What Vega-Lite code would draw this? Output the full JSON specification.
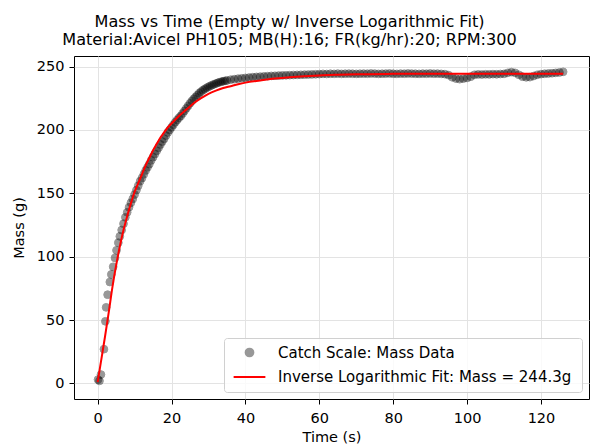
{
  "$schema": "https://vega.github.io/schema/vega-lite/v6.json",
  "width": 515,
  "height": 343,
  "autosize": {"type": "none"},
  "padding": {"left": 74, "top": 56, "right": 6, "bottom": 46},
  "background": "white",
  "config": {
    "font": "DejaVu Sans",
    "view": {"stroke": "black", "strokeWidth": 1},
    "axis": {
      "domain": false,
      "grid": true,
      "gridColor": "#e3e3e3",
      "gridWidth": 1,
      "tickColor": "black",
      "tickSize": 5,
      "labelFont": "DejaVu Sans",
      "labelFontSize": 14.5,
      "labelColor": "black",
      "titleFont": "DejaVu Sans",
      "titleFontSize": 14.5,
      "titleFontWeight": "normal",
      "titleColor": "black"
    }
  },
  "title": {
    "text": ["Mass vs Time (Empty w/ Inverse Logarithmic Fit)", "Material:Avicel PH105; MB(H):16; FR(kg/hr):20; RPM:300"],
    "font": "DejaVu Sans",
    "fontSize": 16.1,
    "fontWeight": "normal",
    "color": "black",
    "anchor": "middle",
    "dx": -42,
    "lineHeight": 18,
    "offset": 8
  },
  "datasets": {
    "mass": [
      {"t": 0.1, "m": 3, "s": "Catch Scale: Mass Data"},
      {"t": 0.5, "m": 2, "s": "Catch Scale: Mass Data"},
      {"t": 0.9, "m": 7, "s": "Catch Scale: Mass Data"},
      {"t": 1.7, "m": 27, "s": "Catch Scale: Mass Data"},
      {"t": 2.1, "m": 49, "s": "Catch Scale: Mass Data"},
      {"t": 2.3, "m": 60, "s": "Catch Scale: Mass Data"},
      {"t": 2.7, "m": 70, "s": "Catch Scale: Mass Data"},
      {"t": 3.3, "m": 80, "s": "Catch Scale: Mass Data"},
      {"t": 3.7, "m": 86, "s": "Catch Scale: Mass Data"},
      {"t": 4.2, "m": 92, "s": "Catch Scale: Mass Data"},
      {"t": 4.7, "m": 99, "s": "Catch Scale: Mass Data"},
      {"t": 5.1, "m": 105, "s": "Catch Scale: Mass Data"},
      {"t": 5.6, "m": 111, "s": "Catch Scale: Mass Data"},
      {"t": 6.0, "m": 116, "s": "Catch Scale: Mass Data"},
      {"t": 6.5, "m": 121, "s": "Catch Scale: Mass Data"},
      {"t": 7.0, "m": 126, "s": "Catch Scale: Mass Data"},
      {"t": 7.5, "m": 131, "s": "Catch Scale: Mass Data"},
      {"t": 8.0, "m": 135, "s": "Catch Scale: Mass Data"},
      {"t": 8.5, "m": 139, "s": "Catch Scale: Mass Data"},
      {"t": 9.0, "m": 142.5, "s": "Catch Scale: Mass Data"},
      {"t": 9.5, "m": 145.5, "s": "Catch Scale: Mass Data"},
      {"t": 10.0, "m": 149, "s": "Catch Scale: Mass Data"},
      {"t": 10.5, "m": 152.5, "s": "Catch Scale: Mass Data"},
      {"t": 11.0, "m": 156, "s": "Catch Scale: Mass Data"},
      {"t": 11.5, "m": 159.5, "s": "Catch Scale: Mass Data"},
      {"t": 12.0, "m": 162, "s": "Catch Scale: Mass Data"},
      {"t": 12.5, "m": 165, "s": "Catch Scale: Mass Data"},
      {"t": 13.0, "m": 168, "s": "Catch Scale: Mass Data"},
      {"t": 13.5, "m": 170.5, "s": "Catch Scale: Mass Data"},
      {"t": 14.0, "m": 173, "s": "Catch Scale: Mass Data"},
      {"t": 14.5, "m": 176, "s": "Catch Scale: Mass Data"},
      {"t": 15.0, "m": 178.5, "s": "Catch Scale: Mass Data"},
      {"t": 15.5, "m": 181, "s": "Catch Scale: Mass Data"},
      {"t": 16.0, "m": 183.5, "s": "Catch Scale: Mass Data"},
      {"t": 16.5, "m": 186, "s": "Catch Scale: Mass Data"},
      {"t": 17.0, "m": 188.5, "s": "Catch Scale: Mass Data"},
      {"t": 17.5, "m": 190.8, "s": "Catch Scale: Mass Data"},
      {"t": 18.0, "m": 193, "s": "Catch Scale: Mass Data"},
      {"t": 18.5, "m": 195.5, "s": "Catch Scale: Mass Data"},
      {"t": 19.0, "m": 198, "s": "Catch Scale: Mass Data"},
      {"t": 19.5, "m": 200, "s": "Catch Scale: Mass Data"},
      {"t": 20.0, "m": 202, "s": "Catch Scale: Mass Data"},
      {"t": 20.5, "m": 204, "s": "Catch Scale: Mass Data"},
      {"t": 21.0, "m": 206, "s": "Catch Scale: Mass Data"},
      {"t": 21.5, "m": 207.8, "s": "Catch Scale: Mass Data"},
      {"t": 22.0, "m": 209.5, "s": "Catch Scale: Mass Data"},
      {"t": 22.5, "m": 211, "s": "Catch Scale: Mass Data"},
      {"t": 23.0, "m": 213, "s": "Catch Scale: Mass Data"},
      {"t": 23.5, "m": 215, "s": "Catch Scale: Mass Data"},
      {"t": 24.0, "m": 217, "s": "Catch Scale: Mass Data"},
      {"t": 24.5, "m": 219, "s": "Catch Scale: Mass Data"},
      {"t": 25.0, "m": 221, "s": "Catch Scale: Mass Data"},
      {"t": 25.5, "m": 222.8, "s": "Catch Scale: Mass Data"},
      {"t": 26.0, "m": 224.5, "s": "Catch Scale: Mass Data"},
      {"t": 26.5, "m": 226, "s": "Catch Scale: Mass Data"},
      {"t": 27.0, "m": 227.5, "s": "Catch Scale: Mass Data"},
      {"t": 27.5, "m": 229, "s": "Catch Scale: Mass Data"},
      {"t": 28.0, "m": 230.2, "s": "Catch Scale: Mass Data"},
      {"t": 28.5, "m": 231.3, "s": "Catch Scale: Mass Data"},
      {"t": 29.0, "m": 232.3, "s": "Catch Scale: Mass Data"},
      {"t": 29.5, "m": 233.2, "s": "Catch Scale: Mass Data"},
      {"t": 30.0, "m": 234, "s": "Catch Scale: Mass Data"},
      {"t": 30.5, "m": 234.7, "s": "Catch Scale: Mass Data"},
      {"t": 31.0, "m": 235.4, "s": "Catch Scale: Mass Data"},
      {"t": 31.5, "m": 236, "s": "Catch Scale: Mass Data"},
      {"t": 32.0, "m": 236.6, "s": "Catch Scale: Mass Data"},
      {"t": 32.5, "m": 237.1, "s": "Catch Scale: Mass Data"},
      {"t": 33.0, "m": 237.6, "s": "Catch Scale: Mass Data"},
      {"t": 33.5, "m": 238, "s": "Catch Scale: Mass Data"},
      {"t": 34.0, "m": 238.4, "s": "Catch Scale: Mass Data"},
      {"t": 34.5, "m": 238.7, "s": "Catch Scale: Mass Data"},
      {"t": 35.0, "m": 239, "s": "Catch Scale: Mass Data"},
      {"t": 36, "m": 239.6, "s": "Catch Scale: Mass Data"},
      {"t": 37, "m": 240, "s": "Catch Scale: Mass Data"},
      {"t": 38, "m": 240.4, "s": "Catch Scale: Mass Data"},
      {"t": 39, "m": 240.7, "s": "Catch Scale: Mass Data"},
      {"t": 40, "m": 241, "s": "Catch Scale: Mass Data"},
      {"t": 41, "m": 241.3, "s": "Catch Scale: Mass Data"},
      {"t": 42, "m": 241.6, "s": "Catch Scale: Mass Data"},
      {"t": 43, "m": 241.8, "s": "Catch Scale: Mass Data"},
      {"t": 44, "m": 242, "s": "Catch Scale: Mass Data"},
      {"t": 45, "m": 242.2, "s": "Catch Scale: Mass Data"},
      {"t": 46, "m": 242.4, "s": "Catch Scale: Mass Data"},
      {"t": 47, "m": 242.6, "s": "Catch Scale: Mass Data"},
      {"t": 48, "m": 242.7, "s": "Catch Scale: Mass Data"},
      {"t": 49, "m": 242.9, "s": "Catch Scale: Mass Data"},
      {"t": 50, "m": 243, "s": "Catch Scale: Mass Data"},
      {"t": 51, "m": 243.1, "s": "Catch Scale: Mass Data"},
      {"t": 52, "m": 243.2, "s": "Catch Scale: Mass Data"},
      {"t": 53, "m": 243.3, "s": "Catch Scale: Mass Data"},
      {"t": 54, "m": 243.4, "s": "Catch Scale: Mass Data"},
      {"t": 55, "m": 243.5, "s": "Catch Scale: Mass Data"},
      {"t": 56, "m": 243.6, "s": "Catch Scale: Mass Data"},
      {"t": 57, "m": 243.7, "s": "Catch Scale: Mass Data"},
      {"t": 58, "m": 243.8, "s": "Catch Scale: Mass Data"},
      {"t": 59, "m": 243.9, "s": "Catch Scale: Mass Data"},
      {"t": 60, "m": 244.0, "s": "Catch Scale: Mass Data"},
      {"t": 61, "m": 244.2, "s": "Catch Scale: Mass Data"},
      {"t": 62, "m": 244.1, "s": "Catch Scale: Mass Data"},
      {"t": 63, "m": 244.3, "s": "Catch Scale: Mass Data"},
      {"t": 64, "m": 244.2, "s": "Catch Scale: Mass Data"},
      {"t": 65, "m": 244.4, "s": "Catch Scale: Mass Data"},
      {"t": 66, "m": 244.2, "s": "Catch Scale: Mass Data"},
      {"t": 67, "m": 244.3, "s": "Catch Scale: Mass Data"},
      {"t": 68, "m": 244.4, "s": "Catch Scale: Mass Data"},
      {"t": 69, "m": 244.3, "s": "Catch Scale: Mass Data"},
      {"t": 70, "m": 244.2, "s": "Catch Scale: Mass Data"},
      {"t": 71, "m": 244.3, "s": "Catch Scale: Mass Data"},
      {"t": 72, "m": 244.4, "s": "Catch Scale: Mass Data"},
      {"t": 73, "m": 244.3, "s": "Catch Scale: Mass Data"},
      {"t": 74, "m": 244.5, "s": "Catch Scale: Mass Data"},
      {"t": 75, "m": 244.4, "s": "Catch Scale: Mass Data"},
      {"t": 76, "m": 244.2, "s": "Catch Scale: Mass Data"},
      {"t": 77, "m": 244.3, "s": "Catch Scale: Mass Data"},
      {"t": 78, "m": 244.4, "s": "Catch Scale: Mass Data"},
      {"t": 79, "m": 244.5, "s": "Catch Scale: Mass Data"},
      {"t": 80, "m": 244.3, "s": "Catch Scale: Mass Data"},
      {"t": 81, "m": 244.2, "s": "Catch Scale: Mass Data"},
      {"t": 82, "m": 244.4, "s": "Catch Scale: Mass Data"},
      {"t": 83, "m": 244.3, "s": "Catch Scale: Mass Data"},
      {"t": 84, "m": 244.5, "s": "Catch Scale: Mass Data"},
      {"t": 85, "m": 244.4, "s": "Catch Scale: Mass Data"},
      {"t": 86, "m": 244.3, "s": "Catch Scale: Mass Data"},
      {"t": 87, "m": 244.2, "s": "Catch Scale: Mass Data"},
      {"t": 88, "m": 244.4, "s": "Catch Scale: Mass Data"},
      {"t": 89, "m": 244.3, "s": "Catch Scale: Mass Data"},
      {"t": 90, "m": 244.5, "s": "Catch Scale: Mass Data"},
      {"t": 91, "m": 244.3, "s": "Catch Scale: Mass Data"},
      {"t": 92, "m": 244.4, "s": "Catch Scale: Mass Data"},
      {"t": 93, "m": 244.2, "s": "Catch Scale: Mass Data"},
      {"t": 94, "m": 244.0, "s": "Catch Scale: Mass Data"},
      {"t": 95, "m": 243.2, "s": "Catch Scale: Mass Data"},
      {"t": 96, "m": 241.5, "s": "Catch Scale: Mass Data"},
      {"t": 97, "m": 240.5, "s": "Catch Scale: Mass Data"},
      {"t": 98, "m": 240.0, "s": "Catch Scale: Mass Data"},
      {"t": 99, "m": 240.5, "s": "Catch Scale: Mass Data"},
      {"t": 100, "m": 241.0, "s": "Catch Scale: Mass Data"},
      {"t": 101, "m": 242.0, "s": "Catch Scale: Mass Data"},
      {"t": 102, "m": 243.5, "s": "Catch Scale: Mass Data"},
      {"t": 103, "m": 243.8, "s": "Catch Scale: Mass Data"},
      {"t": 104, "m": 243.7, "s": "Catch Scale: Mass Data"},
      {"t": 105, "m": 243.9, "s": "Catch Scale: Mass Data"},
      {"t": 106, "m": 243.8, "s": "Catch Scale: Mass Data"},
      {"t": 107, "m": 244.0, "s": "Catch Scale: Mass Data"},
      {"t": 108, "m": 243.9, "s": "Catch Scale: Mass Data"},
      {"t": 109, "m": 244.1, "s": "Catch Scale: Mass Data"},
      {"t": 110, "m": 244.2, "s": "Catch Scale: Mass Data"},
      {"t": 111, "m": 245.0, "s": "Catch Scale: Mass Data"},
      {"t": 112, "m": 245.6, "s": "Catch Scale: Mass Data"},
      {"t": 113, "m": 245.0, "s": "Catch Scale: Mass Data"},
      {"t": 114, "m": 243.5, "s": "Catch Scale: Mass Data"},
      {"t": 115, "m": 242.0, "s": "Catch Scale: Mass Data"},
      {"t": 116, "m": 241.5, "s": "Catch Scale: Mass Data"},
      {"t": 117, "m": 241.6, "s": "Catch Scale: Mass Data"},
      {"t": 118, "m": 242.5, "s": "Catch Scale: Mass Data"},
      {"t": 119, "m": 243.5, "s": "Catch Scale: Mass Data"},
      {"t": 120, "m": 244.0, "s": "Catch Scale: Mass Data"},
      {"t": 121, "m": 244.3, "s": "Catch Scale: Mass Data"},
      {"t": 122, "m": 244.5, "s": "Catch Scale: Mass Data"},
      {"t": 123, "m": 244.7, "s": "Catch Scale: Mass Data"},
      {"t": 124, "m": 245.0, "s": "Catch Scale: Mass Data"},
      {"t": 125, "m": 245.3, "s": "Catch Scale: Mass Data"},
      {"t": 126, "m": 245.8, "s": "Catch Scale: Mass Data"}
    ],
    "fit": [
      {"t": 0, "m": 1},
      {"t": 1, "m": 19},
      {"t": 2, "m": 37},
      {"t": 3, "m": 56},
      {"t": 4, "m": 76},
      {"t": 5, "m": 93},
      {"t": 6, "m": 108},
      {"t": 7, "m": 121},
      {"t": 8, "m": 132},
      {"t": 9, "m": 142},
      {"t": 10, "m": 151},
      {"t": 11, "m": 158},
      {"t": 12, "m": 165},
      {"t": 13, "m": 172},
      {"t": 14, "m": 178},
      {"t": 15, "m": 184},
      {"t": 16, "m": 189},
      {"t": 17, "m": 194},
      {"t": 18, "m": 198},
      {"t": 19, "m": 202},
      {"t": 20, "m": 205},
      {"t": 22, "m": 211},
      {"t": 24, "m": 216},
      {"t": 26, "m": 221},
      {"t": 28, "m": 225},
      {"t": 30, "m": 228.5},
      {"t": 32, "m": 231},
      {"t": 34, "m": 233},
      {"t": 36, "m": 234.5},
      {"t": 38, "m": 236},
      {"t": 40, "m": 237.3},
      {"t": 44, "m": 239},
      {"t": 48, "m": 240.5},
      {"t": 52, "m": 241.6},
      {"t": 56, "m": 242.4},
      {"t": 60, "m": 243},
      {"t": 65, "m": 243.5},
      {"t": 70, "m": 243.9},
      {"t": 80, "m": 244.2},
      {"t": 90, "m": 244.3},
      {"t": 126, "m": 244.3}
    ]
  },
  "layer": [
    {
      "data": {"name": "mass"},
      "mark": {"type": "point", "filled": true, "strokeWidth": 1, "size": 60},
      "encoding": {
        "x": {
          "field": "t", "type": "quantitative",
          "scale": {"domain": [-6.4, 133], "nice": false, "zero": false},
          "axis": {"values": [0, 20, 40, 60, 80, 100, 120], "title": "Time (s)", "labelPadding": 7, "titlePadding": 6}
        },
        "y": {
          "field": "m", "type": "quantitative",
          "scale": {"domain": [-12.3, 258.3], "nice": false, "zero": false},
          "axis": {"values": [0, 50, 100, 150, 200, 250], "title": "Mass (g)", "labelPadding": 5, "titlePadding": 10}
        },
        "color": {
          "field": "s", "type": "nominal",
          "scale": {"domain": ["Catch Scale: Mass Data", "Inverse Logarithmic Fit: Mass = 244.3g"], "range": ["black", "red"]},
          "legend": {
            "title": " ",
            "titleOrient": "right",
            "titleFontSize": 15,
            "titlePadding": 4,
            "orient": "bottom-right",
            "offset": 7,
            "padding": 7,
            "rowPadding": 8.5,
            "symbolSize": 60,
            "symbolOffset": 11,
            "labelFont": "DejaVu Sans",
            "labelFontSize": 15,
            "labelColor": "black",
            "labelLimit": 500,
            "labelOffset": 21,
            "strokeColor": "#d0d0d0",
            "fillColor": "rgba(255,255,255,0.8)",
            "cornerRadius": 3,
            "symbolStrokeWidth": 2
          }
        },
        "stroke": {
          "field": "s", "type": "nominal",
          "scale": {"domain": ["Catch Scale: Mass Data", "Inverse Logarithmic Fit: Mass = 244.3g"], "range": ["black", "red"]},
          "legend": null
        },
        "shape": {
          "field": "s", "type": "nominal",
          "scale": {"domain": ["Catch Scale: Mass Data", "Inverse Logarithmic Fit: Mass = 244.3g"], "range": ["circle", "M-4.1,0H4.1"]},
          "legend": null
        },
        "opacity": {
          "field": "s", "type": "nominal",
          "scale": {"domain": ["Catch Scale: Mass Data", "Inverse Logarithmic Fit: Mass = 244.3g"], "range": [0.4, 1]},
          "legend": null
        }
      }
    },
    {
      "data": {"name": "fit"},
      "mark": {"type": "line", "color": "red", "strokeWidth": 2, "interpolate": "monotone"},
      "encoding": {
        "x": {"field": "t", "type": "quantitative"},
        "y": {"field": "m", "type": "quantitative"}
      }
    }
  ]
}
